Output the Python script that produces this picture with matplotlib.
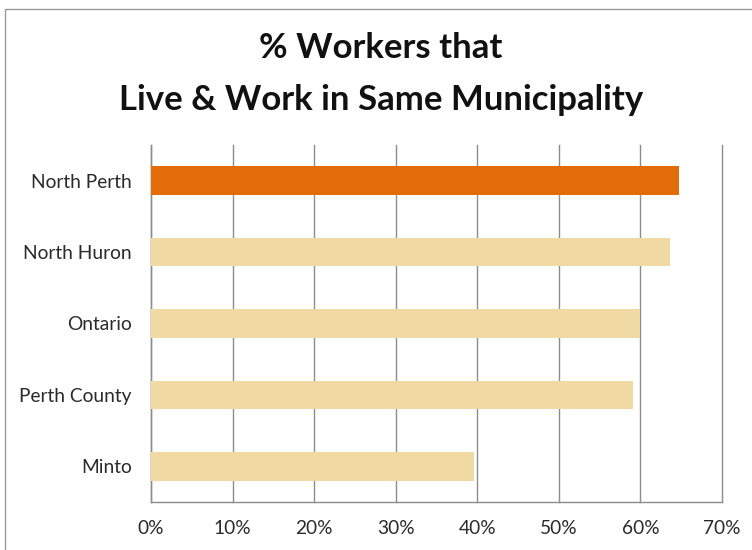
import matplotlib
matplotlib.use("Agg")
import matplotlib.pyplot as plt
from matplotlib.patches import Rectangle

categories = ["North Perth", "North Huron", "Ontario", "Perth County", "Minto"]
values = [64.7, 63.6, 59.9, 59.1, 39.6]
highlight = "North Perth"
x_ticks = [0, 10, 20, 30, 40, 50, 60, 70]
x_tick_labels = ["0%", "10%", "20%", "30%", "40%", "50%", "60%", "70%"]
title_lines = ["% Workers that", "Live & Work in Same Municipality"]

plt.rcParams['font.family'] = ['Lato', 'DejaVu Sans']

fig = plt.figure(figsize=(7.52, 5.5), dpi=100)
fig.patch.set_facecolor("white")

# chart border
fig.add_artist(Rectangle((5/752, -0.01), 1.0, 1 - 9/550 + 0.01, transform=fig.transFigure,
                         fill=False, edgecolor="#9a9a9a", linewidth=1.0))

ax = fig.add_axes([151/752, 1 - 502/550, (722 - 151)/752, (502 - 145)/550])

ypos = list(range(len(categories)))[::-1]
colors = ["#E36C0A" if c == highlight else "#F1D9A3" for c in categories]
ax.barh(ypos, values, height=0.40, color=colors, edgecolor="none", zorder=3)

ax.set_xlim(0, 70)
ax.set_ylim(-0.5, len(categories) - 0.5)
ax.set_xticks(x_ticks)
ax.set_xticklabels(x_tick_labels, fontsize=13.8, color="#2a2a2a")
ax.set_yticks(ypos)
ax.set_yticklabels(categories, fontsize=13.8, color="#2a2a2a")
ax.tick_params(axis="y", length=0, pad=14)
ax.tick_params(axis="x", length=0, pad=13)
ax.grid(axis="x", color="#8c8c8c", linewidth=1.0, zorder=0)
for gl in ax.get_xgridlines():
    gl.set_clip_on(False)
for s in ["top", "right"]:
    ax.spines[s].set_visible(False)
for s in ["left", "bottom"]:
    ax.spines[s].set_color("#8c8c8c")
    ax.spines[s].set_linewidth(1.0)

fig.text(381/752, 1 - 48/550, title_lines[0], ha="center", va="center",
         fontsize=25, fontweight="bold", color="#111111")
fig.text(381/752, 1 - 100/550, title_lines[1], ha="center", va="center",
         fontsize=25, fontweight="bold", color="#111111")

fig.savefig("out.png", dpi=100, facecolor="white")
